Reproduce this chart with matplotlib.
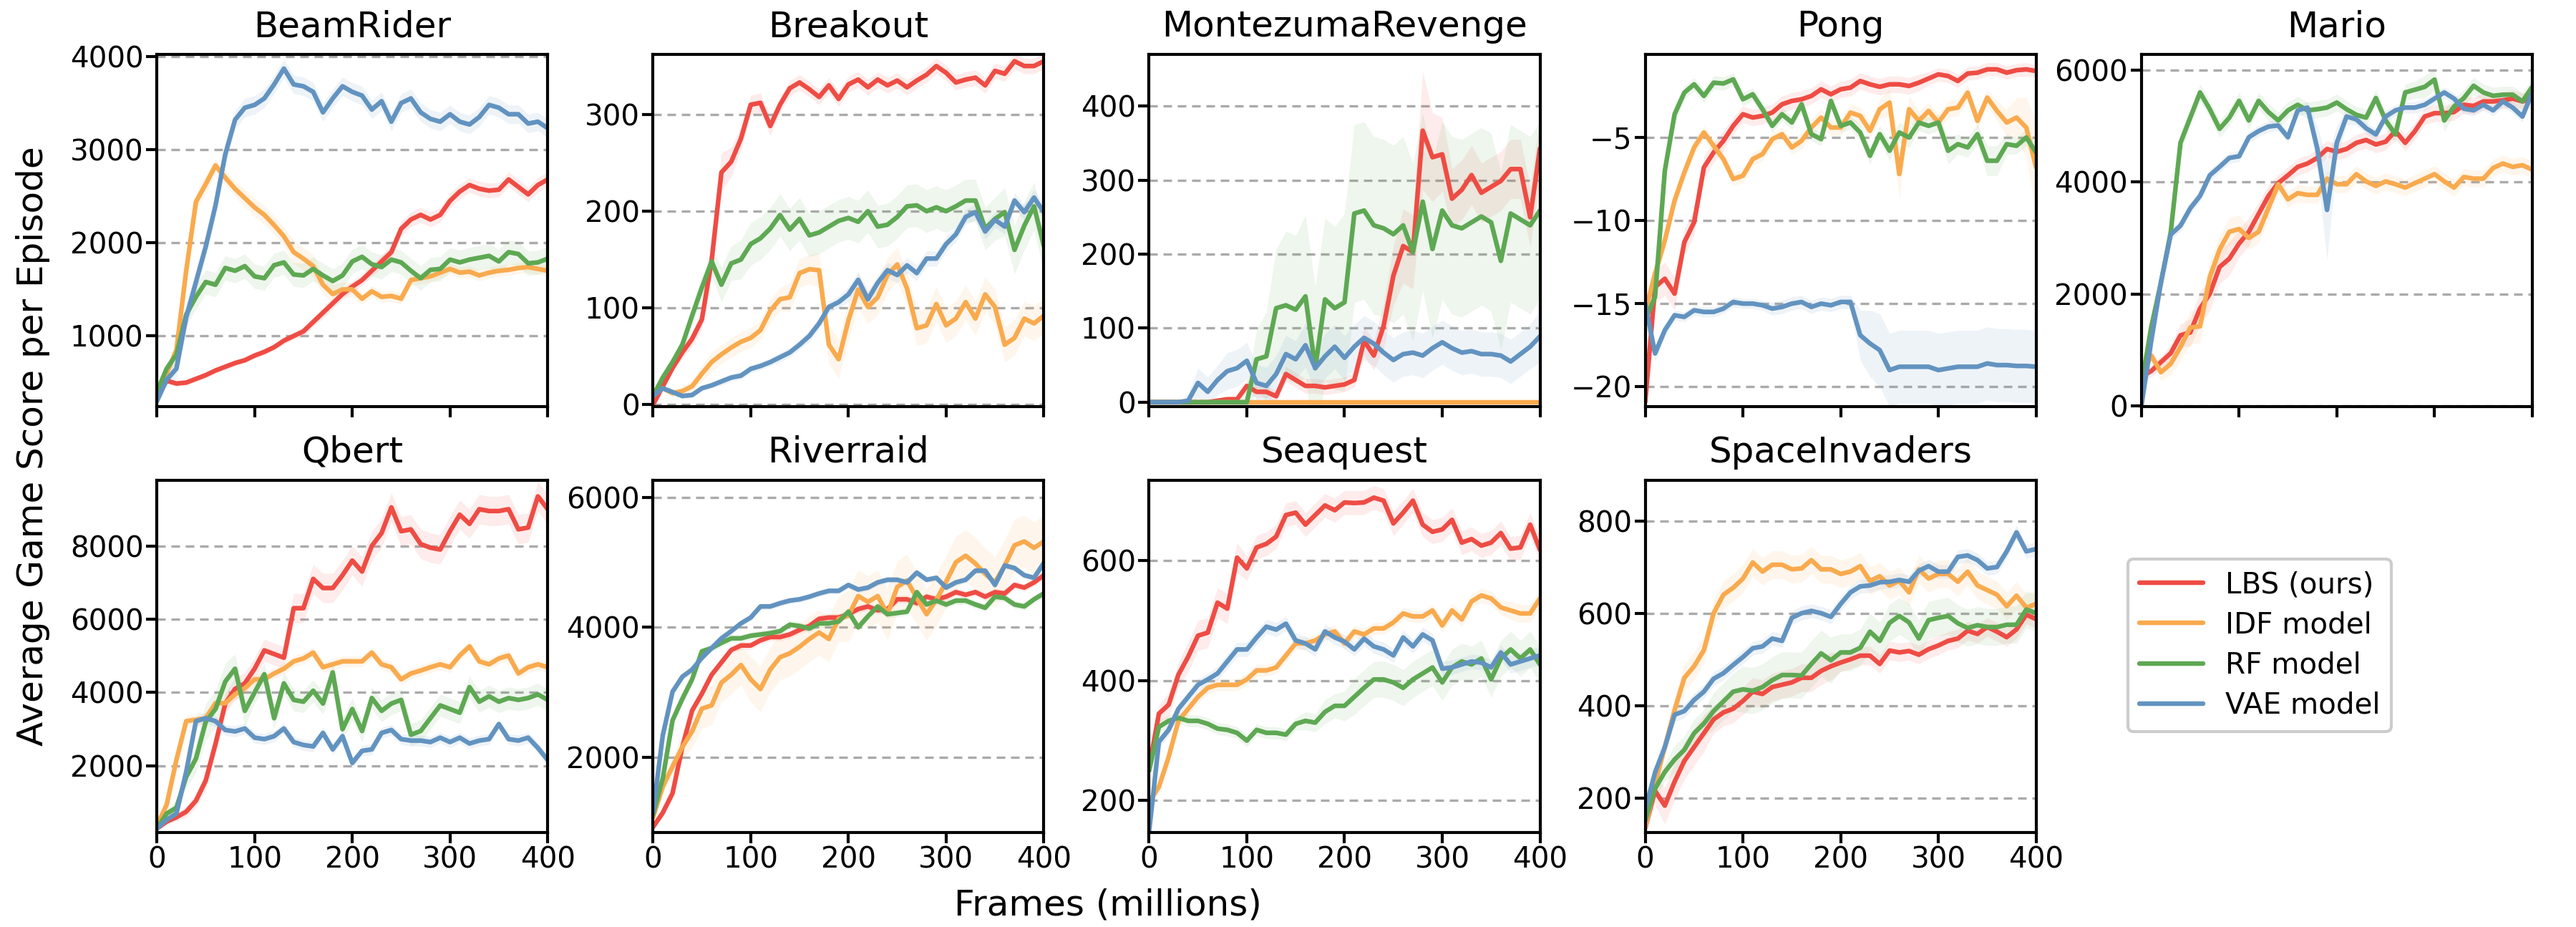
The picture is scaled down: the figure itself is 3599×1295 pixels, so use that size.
import matplotlib.pyplot as plt
import numpy as np

# x positions (millions of frames), one sample every 10M
frames = list(range(0, 401, 10))

models = ['LBS (ours)', 'IDF model', 'RF model', 'VAE model']
colors = ['#ee4c44', '#f9aa4e', '#5ea853', '#6293c0']

games = ['BeamRider', 'Breakout', 'MontezumaRevenge', 'Pong', 'Mario',
         'Qbert', 'Riverraid', 'Seaquest', 'SpaceInvaders']

xticks = [0, 100, 200, 300, 400]

# ---------------- BeamRider
beamrider_lbs = [350, 520, 490, 500, 540, 580, 630, 670, 710, 740,
                 790, 830, 880, 950, 1000, 1050, 1150, 1250, 1350, 1450,
                 1530, 1600, 1700, 1800, 1900, 2150, 2250, 2300, 2250, 2300,
                 2450, 2550, 2620, 2580, 2560, 2570, 2680, 2600, 2520, 2620, 2680]
beamrider_idf = [380, 600, 850, 1700, 2440, 2630, 2830, 2700, 2580, 2480,
                 2380, 2300, 2190, 2070, 1900, 1830, 1750, 1550, 1450, 1500,
                 1500, 1400, 1480, 1420, 1430, 1400, 1600, 1620, 1640, 1680,
                 1720, 1680, 1690, 1650, 1680, 1700, 1710, 1730, 1740, 1720, 1700]
beamrider_rf = [400, 650, 800, 1230, 1420, 1580, 1550, 1730, 1700, 1750,
                1640, 1620, 1760, 1790, 1660, 1650, 1720, 1650, 1590, 1650,
                1800, 1850, 1770, 1740, 1820, 1790, 1700, 1620, 1710, 1720,
                1820, 1790, 1820, 1840, 1860, 1800, 1900, 1880, 1780, 1790, 1830]
beamrider_vae = [300, 530, 650, 1200, 1580, 1960, 2400, 2950, 3320, 3450,
                 3480, 3550, 3700, 3870, 3700, 3680, 3620, 3400, 3550, 3680,
                 3620, 3580, 3430, 3520, 3300, 3500, 3550, 3400, 3330, 3300,
                 3380, 3300, 3270, 3350, 3480, 3450, 3380, 3380, 3280, 3300, 3230]
beamrider_lbs_sd = [20, 30, 30, 30, 30, 30, 30, 30, 30, 30,
                    30, 30, 30, 40, 40, 50, 50, 60, 60, 60,
                    60, 60, 60, 70, 70, 80, 80, 80, 80, 80,
                    80, 80, 80, 80, 80, 80, 80, 80, 80, 80, 80]
beamrider_idf_sd = [30, 50, 80, 100, 100, 100, 80, 80, 80, 100,
                    100, 100, 100, 100, 120, 120, 120, 100, 100, 80,
                    80, 60, 60, 60, 60, 60, 60, 60, 60, 60,
                    60, 60, 60, 60, 60, 60, 60, 60, 60, 60, 60]
beamrider_rf_sd = [30, 60, 100, 120, 130, 130, 130, 130, 130, 130,
                   130, 130, 130, 130, 130, 130, 130, 130, 130, 130,
                   130, 130, 130, 130, 130, 130, 130, 130, 130, 130,
                   130, 130, 130, 130, 130, 130, 130, 130, 130, 130, 130]
beamrider_vae_sd = [30, 60, 100, 120, 120, 120, 100, 100, 100, 100,
                    100, 100, 100, 100, 100, 100, 100, 100, 100, 100,
                    100, 100, 100, 100, 100, 100, 100, 100, 100, 100,
                    100, 100, 100, 100, 100, 100, 100, 100, 100, 100, 100]

# ---------------- Breakout
breakout_lbs = [0, 19, 38, 54, 68, 88, 149, 240, 251, 275,
                310, 312, 288, 310, 327, 333, 326, 318, 330, 316,
                331, 336, 328, 336, 330, 335, 328, 335, 341, 350,
                343, 333, 336, 338, 330, 345, 342, 355, 350, 350, 355]
breakout_idf = [9, 17, 12, 14, 19, 32, 44, 52, 59, 65,
                69, 77, 97, 109, 111, 136, 140, 139, 62, 47,
                87, 119, 101, 111, 134, 145, 120, 79, 82, 104,
                82, 89, 106, 89, 114, 101, 62, 69, 89, 84, 92]
breakout_rf = [9, 28, 44, 62, 92, 121, 148, 124, 146, 150,
               166, 172, 182, 196, 181, 192, 175, 178, 184, 190,
               193, 189, 200, 184, 186, 194, 205, 206, 200, 204,
               200, 205, 211, 211, 182, 192, 199, 160, 185, 205, 164]
breakout_vae = [9, 17, 13, 9, 10, 17, 20, 24, 28, 30,
                37, 40, 44, 49, 54, 62, 71, 84, 101, 106,
                114, 129, 109, 126, 139, 134, 144, 136, 151, 151,
                166, 176, 194, 199, 179, 191, 184, 211, 199, 214, 199]
breakout_lbs_sd = [1, 3, 5, 6, 8, 10, 15, 20, 15, 12,
                   10, 10, 10, 8, 8, 8, 8, 8, 8, 8,
                   8, 8, 8, 8, 8, 8, 8, 8, 8, 8,
                   8, 8, 8, 8, 8, 8, 8, 8, 8, 8, 8]
breakout_idf_sd = [2, 3, 4, 5, 6, 8, 10, 10, 10, 10,
                   10, 10, 12, 12, 15, 15, 15, 18, 20, 20,
                   20, 18, 18, 18, 18, 18, 18, 18, 18, 18,
                   18, 18, 18, 18, 18, 18, 18, 18, 18, 18, 18]
breakout_rf_sd = [2, 4, 6, 8, 10, 12, 15, 18, 18, 20,
                  22, 22, 22, 22, 22, 22, 22, 22, 22, 22,
                  22, 22, 22, 22, 22, 22, 22, 22, 22, 22,
                  22, 22, 22, 22, 22, 22, 25, 25, 25, 25, 25]
breakout_vae_sd = [2, 3, 3, 3, 3, 3, 3, 4, 4, 4,
                   4, 4, 4, 5, 5, 5, 6, 6, 6, 6,
                   8, 8, 8, 8, 8, 8, 8, 8, 8, 8,
                   8, 8, 8, 8, 8, 8, 8, 8, 8, 8, 8]

# ---------------- MontezumaRevenge
montezuma_lbs = [0, 0, 0, 0, 0, 0, 0, 2, 4, 4,
                 22, 14, 14, 8, 38, 30, 22, 22, 20, 22,
                 24, 30, 83, 63, 103, 171, 211, 203, 367, 331,
                 335, 275, 287, 307, 283, 291, 299, 315, 315, 250, 343]
montezuma_idf = [0, 0, 0, 0, 0, 0, 0, 0, 0, 0,
                 0, 0, 0, 0, 0, 0, 0, 0, 0, 0,
                 0, 0, 0, 0, 0, 0, 0, 0, 0, 0,
                 0, 0, 0, 0, 0, 0, 0, 0, 0, 0, 0]
montezuma_rf = [0, 0, 0, 0, 0, 0, 0, 0, 0, 0,
                0, 58, 62, 127, 131, 125, 143, 46, 139, 127,
                135, 255, 259, 239, 235, 227, 239, 203, 271, 207,
                259, 239, 235, 243, 251, 243, 191, 255, 247, 239, 259]
montezuma_vae = [0, 0, 0, 0, 2, 26, 14, 30, 42, 46,
                 56, 26, 22, 38, 65, 58, 77, 46, 62, 75,
                 60, 75, 87, 79, 67, 57, 65, 67, 63, 73,
                 81, 73, 67, 69, 65, 65, 63, 55, 65, 75, 89]
montezuma_lbs_sd = [0, 0, 0, 0, 0, 0, 0, 2, 3, 3,
                    8, 8, 8, 8, 10, 10, 10, 10, 10, 10,
                    10, 10, 20, 20, 30, 40, 50, 50, 80, 60,
                    50, 40, 40, 40, 40, 40, 40, 40, 40, 40, 40]
montezuma_idf_sd = [0, 0, 0, 0, 0, 0, 0, 0, 0, 0,
                    0, 0, 0, 0, 0, 0, 0, 0, 0, 0,
                    0, 0, 0, 0, 0, 0, 0, 0, 0, 0,
                    0, 0, 0, 0, 0, 0, 0, 0, 0, 0, 0]
montezuma_rf_sd = [0, 0, 0, 0, 0, 0, 0, 0, 0, 0,
                   20, 40, 60, 80, 100, 100, 110, 110, 110, 110,
                   120, 120, 120, 120, 120, 120, 120, 120, 120, 120,
                   120, 120, 120, 120, 120, 120, 120, 120, 120, 120, 120]
montezuma_vae_sd = [0, 0, 0, 0, 10, 20, 20, 20, 25, 25,
                    25, 25, 25, 25, 25, 25, 30, 30, 30, 30,
                    30, 30, 30, 30, 30, 30, 30, 30, 30, 30,
                    30, 30, 30, 30, 30, 30, 30, 30, 30, 30, 35]

# ---------------- Pong
pong_lbs = [-20.9, -14.0, -13.5, -14.4, -11.3, -10.1, -6.8, -5.9, -5.2, -4.3,
            -3.6, -3.8, -3.7, -3.5, -3.0, -2.8, -2.7, -2.5, -2.1, -2.4,
            -2.1, -2.0, -1.6, -1.8, -1.95, -1.8, -1.8, -1.9, -1.7, -1.45,
            -1.2, -1.3, -1.6, -1.15, -1.1, -0.9, -0.9, -1.1, -0.95, -0.9, -1.0]
pong_idf = [-15.5, -13.2, -11.2, -8.8, -7.1, -5.6, -4.7, -5.5, -6.3, -7.5,
            -7.3, -6.3, -6.0, -5.1, -4.8, -5.6, -5.2, -4.4, -3.8, -4.4,
            -4.4, -3.5, -3.7, -4.6, -3.3, -2.9, -7.2, -3.3, -4.0, -3.4,
            -4.1, -3.3, -3.2, -2.3, -4.0, -2.6, -3.4, -4.1, -3.8, -4.4, -6.8]
pong_rf = [-16.0, -14.6, -7.0, -3.6, -2.3, -1.8, -2.5, -1.7, -1.75, -1.5,
           -2.7, -2.4, -3.3, -4.3, -3.6, -4.1, -3.0, -4.8, -5.1, -2.8,
           -4.3, -4.1, -4.7, -6.1, -4.8, -5.8, -4.7, -5.0, -4.1, -4.3,
           -4.1, -5.8, -5.4, -5.6, -4.8, -6.4, -6.4, -5.4, -5.5, -5.0, -5.9]
pong_vae = [-15.0, -18.0, -16.6, -15.7, -15.8, -15.4, -15.5, -15.5, -15.3, -14.9,
            -15.0, -15.0, -15.1, -15.3, -15.2, -15.0, -14.9, -15.2, -15.0, -15.1,
            -14.9, -14.9, -16.9, -17.4, -17.8, -19.0, -18.8, -18.8, -18.8, -18.8,
            -19.0, -18.9, -18.8, -18.8, -18.8, -18.6, -18.7, -18.7, -18.75, -18.75, -18.8]
pong_lbs_sd = [0.5, 1.0, 1.0, 1.0, 0.8, 0.8, 0.7, 0.6, 0.6, 0.5,
               0.5, 0.5, 0.5, 0.5, 0.5, 0.5, 0.5, 0.5, 0.5, 0.5,
               0.5, 0.5, 0.5, 0.5, 0.5, 0.5, 0.5, 0.5, 0.5, 0.4,
               0.4, 0.4, 0.4, 0.4, 0.4, 0.4, 0.4, 0.4, 0.4, 0.4, 0.4]
pong_idf_sd = [1.0, 0.8, 0.6, 0.5, 0.5, 0.5, 0.4, 0.4, 0.4, 0.4,
               0.4, 0.4, 0.4, 0.4, 0.4, 0.4, 0.5, 0.5, 0.5, 0.5,
               0.5, 0.5, 0.5, 0.5, 0.6, 0.8, 1.5, 0.8, 0.6, 0.5,
               0.5, 0.5, 0.5, 0.5, 0.5, 0.5, 0.6, 0.8, 1.2, 1.8, 2.8]
pong_rf_sd = [1.0, 1.0, 0.8, 0.6, 0.4, 0.4, 0.4, 0.4, 0.4, 0.4,
              0.4, 0.4, 0.4, 0.4, 0.4, 0.4, 0.4, 0.4, 0.4, 0.4,
              0.4, 0.4, 0.5, 0.5, 0.5, 0.6, 0.6, 0.6, 0.5, 0.5,
              0.5, 0.8, 0.6, 0.6, 0.6, 0.9, 0.9, 0.6, 0.5, 0.5, 0.5]
pong_vae_sd = [0.5, 0.5, 0.4, 0.3, 0.3, 0.3, 0.3, 0.3, 0.3, 0.3,
               0.3, 0.3, 0.3, 0.4, 0.4, 0.4, 0.4, 0.4, 0.4, 0.4,
               0.4, 0.4, 1.5, 2.0, 2.2, 2.2, 2.2, 2.2, 2.2, 2.2,
               2.2, 2.2, 2.2, 2.2, 2.2, 2.2, 2.2, 2.2, 2.2, 2.2, 2.2]

# ---------------- Mario
mario_lbs = [520, 620, 780, 940, 1260, 1310, 1740, 2000, 2480, 2630,
             2900, 3110, 3430, 3750, 3980, 4120, 4270, 4330, 4430, 4590,
             4540, 4590, 4700, 4750, 4670, 4720, 4910, 4700, 4910, 5170,
             5230, 5230, 5250, 5380, 5360, 5440, 5440, 5460, 5490, 5440, 5490]
mario_idf = [500, 900, 600, 750, 1050, 1400, 1420, 2300, 2790, 3110,
             3160, 3000, 3110, 3530, 3960, 3690, 3800, 3770, 3770, 4060,
             3960, 3960, 4140, 4010, 3930, 4010, 3960, 3900, 3980, 4060,
             4140, 4010, 3900, 4090, 4060, 4060, 4250, 4330, 4270, 4300, 4220]
mario_rf = [360, 1400, 2200, 3100, 4700, 5150, 5600, 5300, 4950, 5150,
            5450, 5100, 5450, 5250, 5100, 5280, 5380, 5280, 5300, 5330,
            5420, 5300, 5200, 5150, 5500, 5100, 4850, 5600, 5650, 5700,
            5830, 5100, 5350, 5500, 5720, 5600, 5540, 5560, 5560, 5440, 5700]
mario_vae = [0, 1150, 2210, 3060, 3220, 3530, 3750, 4120, 4270, 4430,
             4460, 4800, 4910, 4990, 5010, 4800, 5280, 5330, 4600, 3500,
             4700, 5170, 5120, 4960, 4850, 5170, 5280, 5330, 5330, 5380,
             5490, 5600, 5490, 5310, 5280, 5380, 5280, 5440, 5330, 5170, 5600]
mario_lbs_sd = [100, 100, 100, 150, 200, 250, 300, 300, 300, 300,
                250, 250, 200, 200, 150, 150, 150, 150, 150, 150,
                150, 150, 150, 150, 150, 150, 150, 150, 150, 150,
                150, 150, 150, 150, 150, 150, 150, 150, 150, 150, 150]
mario_idf_sd = [100, 150, 150, 200, 250, 300, 300, 300, 250, 250,
                250, 200, 200, 200, 150, 150, 150, 150, 150, 150,
                150, 150, 150, 150, 150, 150, 150, 150, 150, 150,
                150, 150, 150, 150, 150, 150, 150, 150, 150, 150, 150]
mario_rf_sd = [100, 150, 200, 200, 200, 150, 150, 150, 150, 150,
               150, 150, 150, 150, 150, 150, 150, 150, 150, 150,
               150, 150, 150, 150, 150, 150, 150, 150, 150, 200,
               200, 200, 150, 150, 150, 150, 150, 150, 150, 150, 150]
mario_vae_sd = [50, 100, 100, 100, 100, 100, 100, 100, 100, 100,
                100, 100, 100, 100, 100, 100, 100, 100, 400, 900,
                300, 150, 100, 100, 100, 100, 100, 100, 100, 100,
                100, 100, 100, 100, 100, 100, 100, 100, 100, 100, 100]

# ---------------- Qbert
qbert_lbs = [290, 480, 600, 750, 1050, 1600, 2600, 3700, 4100, 4250,
             4650, 5150, 5050, 4950, 6300, 6300, 7100, 6850, 6850, 7200,
             7600, 7300, 8000, 8350, 9050, 8400, 8450, 8050, 7950, 7900,
             8400, 8850, 8600, 9000, 8950, 8950, 9000, 8450, 8500, 9350, 9000]
qbert_idf = [370, 940, 2160, 3220, 3260, 3300, 3710, 3710, 3950, 4120,
             4360, 4360, 4520, 4650, 4850, 4930, 5090, 4690, 4770, 4850,
             4850, 4850, 5090, 4770, 4690, 4360, 4520, 4600, 4690, 4770,
             4690, 5010, 5260, 4850, 4770, 4930, 5010, 4520, 4690, 4770, 4690]
qbert_rf = [290, 700, 860, 1700, 2200, 3200, 3550, 4300, 4650, 3500,
            4000, 4500, 3300, 4250, 3800, 3750, 4050, 3700, 4550, 3000,
            3550, 2950, 3850, 3500, 3700, 3800, 2850, 2950, 3300, 3650,
            3550, 3450, 4150, 3750, 3900, 3750, 3850, 3800, 3850, 3950, 3800]
qbert_vae = [290, 530, 700, 1840, 3220, 3300, 3220, 2980, 2940, 3020,
             2770, 2730, 2810, 3020, 2650, 2570, 2530, 2900, 2450, 2810,
             2080, 2410, 2450, 2900, 2980, 2730, 2690, 2690, 2650, 2770,
             2650, 2770, 2610, 2690, 2730, 3140, 2730, 2690, 2770, 2490, 2160]
qbert_lbs_sd = [50, 80, 100, 150, 200, 250, 300, 300, 300, 300,
                300, 300, 300, 300, 400, 400, 400, 400, 400, 400,
                400, 400, 400, 400, 400, 400, 400, 400, 400, 400,
                400, 400, 400, 400, 400, 400, 400, 400, 400, 400, 400]
qbert_idf_sd = [50, 100, 150, 150, 150, 150, 150, 150, 150, 150,
                150, 150, 150, 150, 150, 150, 150, 150, 150, 150,
                150, 150, 150, 150, 150, 150, 150, 150, 150, 150,
                150, 150, 150, 150, 150, 150, 150, 150, 150, 150, 150]
qbert_rf_sd = [50, 100, 200, 300, 400, 500, 500, 500, 400, 400,
               300, 300, 300, 300, 300, 300, 300, 300, 300, 300,
               300, 300, 300, 300, 300, 300, 300, 300, 300, 300,
               300, 300, 300, 300, 300, 300, 300, 300, 300, 300, 300]
qbert_vae_sd = [50, 100, 150, 150, 150, 150, 150, 150, 150, 150,
                150, 150, 150, 150, 150, 150, 150, 150, 150, 150,
                150, 150, 150, 150, 150, 150, 150, 150, 150, 150,
                150, 150, 150, 150, 150, 150, 150, 150, 150, 150, 150]

# ---------------- Riverraid
riverraid_lbs = [930, 1150, 1450, 2160, 2720, 2980, 3270, 3460, 3650, 3720,
                 3720, 3800, 3850, 3850, 3890, 3960, 4020, 4130, 4150, 4150,
                 4200, 4280, 4320, 4260, 4280, 4430, 4430, 4370, 4470, 4430,
                 4470, 4540, 4500, 4540, 4470, 4540, 4520, 4650, 4610, 4690, 4800]
riverraid_idf = [1080, 1550, 1860, 2160, 2400, 2750, 2800, 3150, 3270, 3420,
                 3200, 3050, 3350, 3540, 3600, 3700, 3820, 3920, 3820, 4130,
                 4180, 4480, 4390, 4480, 4200, 4620, 4720, 4450, 4200, 4420,
                 4700, 5000, 5100, 4980, 4820, 4690, 4950, 5260, 5320, 5220, 5320]
riverraid_rf = [1120, 1680, 2570, 2900, 3200, 3630, 3680, 3760, 3830, 3830,
                3870, 3890, 3910, 3940, 4040, 4020, 3980, 4060, 4060, 4090,
                4240, 4000, 4170, 4320, 4200, 4220, 4240, 4540, 4350, 4410,
                4350, 4410, 4410, 4350, 4300, 4470, 4450, 4350, 4320, 4430, 4520]
riverraid_vae = [1150, 2340, 3010, 3240, 3350, 3530, 3680, 3830, 3940, 4060,
                 4150, 4320, 4320, 4370, 4410, 4430, 4470, 4520, 4560, 4560,
                 4650, 4580, 4610, 4690, 4730, 4730, 4690, 4840, 4730, 4760,
                 4610, 4690, 4730, 4870, 4870, 4650, 4950, 4910, 4800, 4760, 4990]
riverraid_lbs_sd = [50, 60, 80, 80, 80, 60, 60, 60, 60, 60,
                    60, 60, 60, 60, 60, 60, 60, 60, 60, 60,
                    60, 60, 60, 60, 60, 60, 60, 60, 60, 60,
                    60, 60, 60, 60, 60, 60, 60, 60, 60, 60, 60]
riverraid_idf_sd = [50, 100, 150, 200, 250, 300, 300, 300, 300, 300,
                    350, 350, 350, 350, 350, 350, 350, 350, 350, 350,
                    400, 400, 400, 400, 400, 400, 400, 400, 400, 400,
                    400, 400, 400, 400, 400, 400, 400, 400, 400, 400, 400]
riverraid_rf_sd = [50, 60, 80, 80, 80, 60, 60, 60, 60, 60,
                   60, 60, 60, 60, 60, 60, 60, 60, 60, 60,
                   60, 60, 60, 60, 60, 60, 60, 60, 60, 60,
                   60, 60, 60, 60, 60, 60, 60, 60, 60, 60, 60]
riverraid_vae_sd = [50, 60, 60, 60, 50, 50, 50, 50, 50, 50,
                    50, 50, 50, 50, 50, 50, 50, 50, 50, 50,
                    50, 50, 50, 50, 50, 50, 50, 50, 50, 50,
                    50, 50, 50, 50, 50, 50, 50, 50, 50, 50, 50]

# ---------------- Seaquest
seaquest_lbs = [255, 345, 360, 410, 440, 475, 480, 530, 520, 605,
                587, 622, 628, 640, 676, 680, 660, 676, 692, 684,
                697, 696, 697, 705, 700, 662, 680, 700, 660, 648,
                652, 668, 630, 636, 625, 630, 646, 620, 622, 660, 618]
seaquest_idf = [198, 223, 273, 333, 353, 373, 388, 393, 393, 393,
                402, 417, 417, 422, 442, 462, 462, 467, 477, 482,
                462, 482, 477, 487, 487, 497, 512, 507, 507, 517,
                492, 517, 502, 532, 542, 537, 522, 517, 512, 512, 537]
seaquest_rf = [250, 323, 333, 338, 333, 333, 328, 320, 318, 313,
               300, 318, 313, 313, 310, 328, 333, 330, 348, 358,
               358, 373, 388, 402, 402, 397, 388, 402, 412, 422,
               397, 422, 432, 427, 437, 402, 437, 452, 437, 452, 427]
seaquest_vae = [149, 298, 318, 353, 373, 393, 402, 412, 432, 452,
                452, 472, 490, 485, 495, 467, 462, 452, 482, 472,
                465, 452, 470, 457, 452, 442, 472, 457, 477, 467,
                420, 422, 427, 432, 430, 422, 447, 427, 432, 437, 442]
seaquest_lbs_sd = [10, 15, 20, 20, 25, 25, 25, 25, 25, 25,
                   20, 20, 20, 20, 20, 20, 20, 20, 20, 20,
                   20, 20, 20, 20, 20, 20, 20, 20, 20, 20,
                   20, 20, 20, 20, 20, 20, 20, 20, 20, 20, 20]
seaquest_idf_sd = [10, 10, 10, 10, 10, 10, 10, 10, 10, 10,
                   10, 10, 10, 10, 10, 10, 10, 10, 10, 10,
                   10, 10, 10, 10, 10, 10, 10, 10, 10, 10,
                   12, 12, 12, 12, 12, 12, 12, 15, 15, 15, 15]
seaquest_rf_sd = [10, 10, 10, 10, 10, 10, 10, 10, 10, 10,
                  10, 10, 10, 10, 10, 10, 15, 15, 20, 20,
                  25, 30, 30, 30, 30, 30, 30, 30, 30, 30,
                  30, 30, 30, 30, 30, 30, 30, 30, 30, 30, 30]
seaquest_vae_sd = [10, 10, 10, 10, 10, 10, 10, 12, 12, 12,
                   12, 12, 12, 12, 12, 12, 12, 12, 12, 12,
                   12, 12, 12, 12, 12, 12, 12, 12, 12, 12,
                   12, 12, 12, 12, 12, 12, 12, 15, 15, 15, 15]

# ---------------- SpaceInvaders
spaceinvaders_lbs = [136, 215, 183, 235, 280, 310, 340, 370, 385, 393,
                     410, 430, 425, 440, 445, 450, 460, 460, 475, 485,
                     493, 500, 508, 508, 490, 519, 515, 518, 510, 522,
                     530, 540, 545, 562, 555, 570, 560, 548, 565, 597, 587]
spaceinvaders_idf = [135, 230, 310, 390, 460, 485, 520, 600, 640, 655,
                     675, 710, 690, 705, 705, 695, 697, 715, 695, 695,
                     685, 690, 702, 670, 680, 660, 670, 645, 695, 675,
                     685, 685, 668, 690, 660, 650, 640, 615, 638, 612, 620]
spaceinvaders_rf = [150, 220, 256, 283, 304, 340, 361, 388, 409, 430,
                    435, 432, 440, 455, 466, 466, 465, 490, 513, 498,
                    515, 515, 525, 560, 540, 579, 594, 580, 545, 585,
                    590, 594, 578, 568, 574, 570, 570, 575, 575, 608, 600]
spaceinvaders_vae = [175, 255, 310, 380, 388, 412, 430, 458, 470, 488,
                     505, 524, 528, 545, 540, 590, 600, 605, 600, 592,
                     620, 645, 658, 660, 667, 668, 672, 668, 692, 702,
                     690, 690, 722, 725, 715, 697, 700, 734, 775, 734, 739]
spaceinvaders_lbs_sd = [20, 30, 40, 40, 40, 40, 40, 30, 30, 30,
                        30, 30, 30, 30, 30, 30, 30, 30, 30, 30,
                        20, 20, 20, 20, 20, 20, 20, 20, 20, 20,
                        20, 20, 20, 20, 20, 20, 20, 20, 20, 20, 20]
spaceinvaders_idf_sd = [20, 20, 20, 30, 30, 30, 30, 30, 30, 30,
                        30, 30, 30, 30, 30, 30, 30, 30, 30, 30,
                        30, 30, 30, 30, 30, 30, 30, 30, 30, 30,
                        30, 30, 30, 30, 30, 30, 30, 30, 30, 30, 30]
spaceinvaders_rf_sd = [20, 20, 20, 30, 30, 30, 30, 40, 40, 40,
                       50, 50, 50, 50, 50, 50, 50, 50, 50, 50,
                       40, 40, 40, 40, 40, 40, 40, 40, 40, 40,
                       40, 40, 40, 40, 40, 40, 40, 40, 40, 40, 40]
spaceinvaders_vae_sd = [15, 15, 15, 15, 15, 15, 15, 15, 15, 15,
                        15, 15, 15, 15, 15, 15, 15, 15, 15, 15,
                        15, 15, 15, 15, 15, 15, 15, 15, 15, 15,
                        15, 15, 15, 15, 15, 15, 15, 15, 15, 15, 15]

means = {
    'BeamRider': [beamrider_lbs, beamrider_idf, beamrider_rf, beamrider_vae],
    'Breakout': [breakout_lbs, breakout_idf, breakout_rf, breakout_vae],
    'MontezumaRevenge': [montezuma_lbs, montezuma_idf, montezuma_rf, montezuma_vae],
    'Pong': [pong_lbs, pong_idf, pong_rf, pong_vae],
    'Mario': [mario_lbs, mario_idf, mario_rf, mario_vae],
    'Qbert': [qbert_lbs, qbert_idf, qbert_rf, qbert_vae],
    'Riverraid': [riverraid_lbs, riverraid_idf, riverraid_rf, riverraid_vae],
    'Seaquest': [seaquest_lbs, seaquest_idf, seaquest_rf, seaquest_vae],
    'SpaceInvaders': [spaceinvaders_lbs, spaceinvaders_idf, spaceinvaders_rf, spaceinvaders_vae],
}
spreads = {
    'BeamRider': [beamrider_lbs_sd, beamrider_idf_sd, beamrider_rf_sd, beamrider_vae_sd],
    'Breakout': [breakout_lbs_sd, breakout_idf_sd, breakout_rf_sd, breakout_vae_sd],
    'MontezumaRevenge': [montezuma_lbs_sd, montezuma_idf_sd, montezuma_rf_sd, montezuma_vae_sd],
    'Pong': [pong_lbs_sd, pong_idf_sd, pong_rf_sd, pong_vae_sd],
    'Mario': [mario_lbs_sd, mario_idf_sd, mario_rf_sd, mario_vae_sd],
    'Qbert': [qbert_lbs_sd, qbert_idf_sd, qbert_rf_sd, qbert_vae_sd],
    'Riverraid': [riverraid_lbs_sd, riverraid_idf_sd, riverraid_rf_sd, riverraid_vae_sd],
    'Seaquest': [seaquest_lbs_sd, seaquest_idf_sd, seaquest_rf_sd, seaquest_vae_sd],
    'SpaceInvaders': [spaceinvaders_lbs_sd, spaceinvaders_idf_sd, spaceinvaders_rf_sd, spaceinvaders_vae_sd],
}

ylims = {'BeamRider': (242, 4022), 'Breakout': (-2, 362), 'MontezumaRevenge': (-6, 470),
         'Pong': (-21.2, 0), 'Mario': (-15, 6280), 'Qbert': (185, 9790),
         'Riverraid': (847, 6260), 'Seaquest': (147, 734), 'SpaceInvaders': (125, 888)}
yticks = {'BeamRider': [1000, 2000, 3000, 4000], 'Breakout': [0, 100, 200, 300],
          'MontezumaRevenge': [0, 100, 200, 300, 400], 'Pong': [-20, -15, -10, -5],
          'Mario': [0, 2000, 4000, 6000], 'Qbert': [2000, 4000, 6000, 8000],
          'Riverraid': [2000, 4000, 6000], 'Seaquest': [200, 400, 600],
          'SpaceInvaders': [200, 400, 600, 800]}


plt.rcParams['font.family'] = 'DejaVu Sans'

fig, axes = plt.subplots(2, 5, figsize=(3599 / 300, 1295 / 300), dpi=300)
fig.subplots_adjust(left=0.0609, right=0.983, top=0.9413, bottom=0.102,
                    wspace=0.2695, hspace=0.209)
axes[1, 4].axis('off')

handles = []
for i, game in enumerate(games):
    ax = axes.flat[i]
    for mean, sd, c in zip(means[game], spreads[game], colors):
        m = np.array(mean, dtype=float)
        s = np.array(sd, dtype=float)
        ax.fill_between(frames, m - s, m + s, color=c, alpha=0.1, lw=0)
    lines = []
    for mean, c, lab in zip(means[game], colors, models):
        ln, = ax.plot(frames, mean, color=c, lw=1.55, label=lab,
                      solid_capstyle='round', solid_joinstyle='round')
        lines.append(ln)
    if i == 0:
        handles = lines

    ax.set_xlim(0, 400)
    ax.set_ylim(*ylims[game])
    ax.set_xticks(xticks)
    ax.set_yticks(yticks[game])
    ax.yaxis.grid(True, color='#aaaaaa', lw=0.8, ls=(0, (3.6, 2.4)))
    ax.set_axisbelow(True)
    ax.set_title(game, fontsize=12, pad=6)
    ax.tick_params(axis='both', labelsize=9.7, length=3.5, width=1.0, pad=1)
    for sp in ax.spines.values():
        sp.set_linewidth(1.0)
    if i < 5:
        ax.tick_params(labelbottom=False)

fig.legend(handles, models, loc='upper left', bbox_to_anchor=(0.8205, 0.4124),
           fontsize=9.7, frameon=True, fancybox=True, framealpha=1,
           edgecolor='#cccccc', handlelength=2.2, handletextpad=0.75,
           labelspacing=0.4, borderpad=0.4)
fig.legends[0].get_frame().set_linewidth(1.0)

fig.text(0.0128, 0.519, 'Average Game Score per Episode', rotation=90,
         ha='center', va='center', fontsize=12)
fig.text(0.43, 0.0235, 'Frames (millions)', ha='center', va='center', fontsize=12)

fig.savefig('out.png', dpi=300)
